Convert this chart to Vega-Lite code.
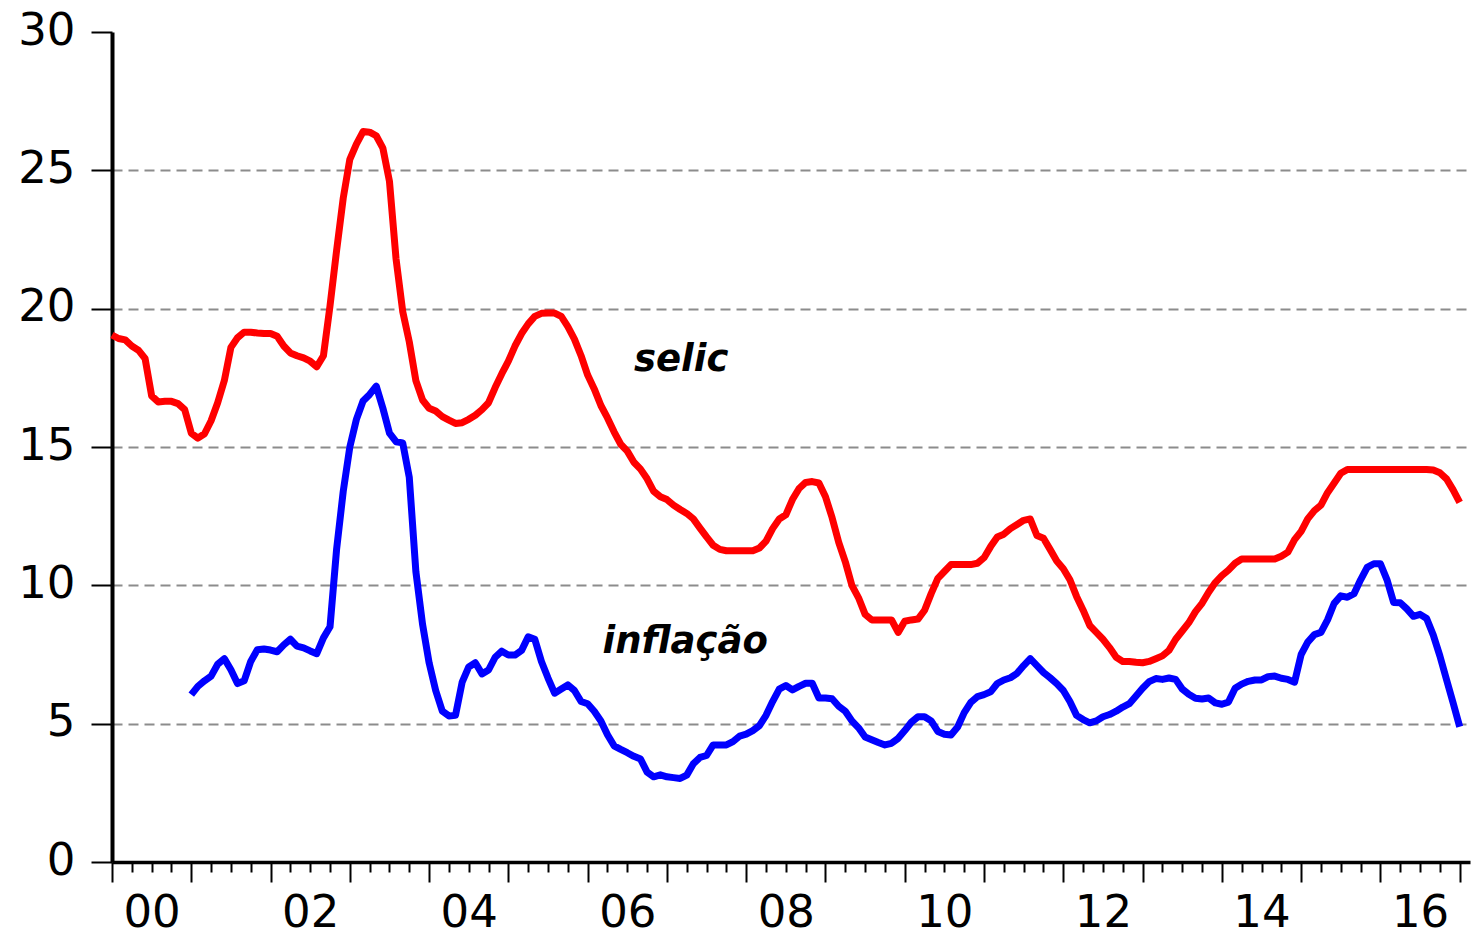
{
"$schema": "https://vega.github.io/schema/vega-lite/v6.json",
"width": 1358,
"height": 830,
"autosize": {"type": "none"},
"padding": {"left": 112, "top": 32, "right": 4, "bottom": 74},
"background": "white",
"config": {"view": {"stroke": null}},
"datasets": {
"selic": [
{"t":2000.000,"v":19.05},{"t":2000.083,"v":18.92},{"t":2000.167,"v":18.87},{"t":2000.250,"v":18.65},{"t":2000.333,"v":18.5},{"t":2000.417,"v":18.2},{"t":2000.500,"v":16.85},{"t":2000.583,"v":16.63},{"t":2000.667,"v":16.65},{"t":2000.750,"v":16.65},{"t":2000.833,"v":16.57},{"t":2000.917,"v":16.35},
{"t":2001.000,"v":15.5},{"t":2001.083,"v":15.32},{"t":2001.167,"v":15.48},{"t":2001.250,"v":15.95},{"t":2001.333,"v":16.6},{"t":2001.417,"v":17.4},{"t":2001.500,"v":18.6},{"t":2001.583,"v":18.95},{"t":2001.667,"v":19.15},{"t":2001.750,"v":19.15},{"t":2001.833,"v":19.12},{"t":2001.917,"v":19.1},
{"t":2002.000,"v":19.1},{"t":2002.083,"v":19.0},{"t":2002.167,"v":18.65},{"t":2002.250,"v":18.4},{"t":2002.333,"v":18.3},{"t":2002.417,"v":18.22},{"t":2002.500,"v":18.1},{"t":2002.583,"v":17.9},{"t":2002.667,"v":18.3},{"t":2002.750,"v":20.1},{"t":2002.833,"v":22.1},{"t":2002.917,"v":24.0},
{"t":2003.000,"v":25.4},{"t":2003.083,"v":25.95},{"t":2003.167,"v":26.4},{"t":2003.250,"v":26.38},{"t":2003.333,"v":26.25},{"t":2003.417,"v":25.8},{"t":2003.500,"v":24.6},{"t":2003.583,"v":21.8},{"t":2003.667,"v":19.9},{"t":2003.750,"v":18.8},{"t":2003.833,"v":17.4},{"t":2003.917,"v":16.7},
{"t":2004.000,"v":16.4},{"t":2004.083,"v":16.3},{"t":2004.167,"v":16.1},{"t":2004.250,"v":15.97},{"t":2004.333,"v":15.85},{"t":2004.417,"v":15.88},{"t":2004.500,"v":16.0},{"t":2004.583,"v":16.15},{"t":2004.667,"v":16.35},{"t":2004.750,"v":16.6},{"t":2004.833,"v":17.15},{"t":2004.917,"v":17.65},
{"t":2005.000,"v":18.1},{"t":2005.083,"v":18.65},{"t":2005.167,"v":19.1},{"t":2005.250,"v":19.45},{"t":2005.333,"v":19.72},{"t":2005.417,"v":19.83},{"t":2005.500,"v":19.84},{"t":2005.583,"v":19.84},{"t":2005.667,"v":19.72},{"t":2005.750,"v":19.35},{"t":2005.833,"v":18.9},{"t":2005.917,"v":18.3},
{"t":2006.000,"v":17.6},{"t":2006.083,"v":17.1},{"t":2006.167,"v":16.5},{"t":2006.250,"v":16.05},{"t":2006.333,"v":15.55},{"t":2006.417,"v":15.1},{"t":2006.500,"v":14.85},{"t":2006.583,"v":14.45},{"t":2006.667,"v":14.2},{"t":2006.750,"v":13.85},{"t":2006.833,"v":13.4},{"t":2006.917,"v":13.2},
{"t":2007.000,"v":13.1},{"t":2007.083,"v":12.9},{"t":2007.167,"v":12.74},{"t":2007.250,"v":12.6},{"t":2007.333,"v":12.4},{"t":2007.417,"v":12.07},{"t":2007.500,"v":11.75},{"t":2007.583,"v":11.45},{"t":2007.667,"v":11.3},{"t":2007.750,"v":11.25},{"t":2007.833,"v":11.25},{"t":2007.917,"v":11.25},
{"t":2008.000,"v":11.25},{"t":2008.083,"v":11.25},{"t":2008.167,"v":11.35},{"t":2008.250,"v":11.6},{"t":2008.333,"v":12.05},{"t":2008.417,"v":12.4},{"t":2008.500,"v":12.55},{"t":2008.583,"v":13.1},{"t":2008.667,"v":13.5},{"t":2008.750,"v":13.72},{"t":2008.833,"v":13.75},{"t":2008.917,"v":13.7},
{"t":2009.000,"v":13.2},{"t":2009.083,"v":12.45},{"t":2009.167,"v":11.55},{"t":2009.250,"v":10.85},{"t":2009.333,"v":10.0},{"t":2009.417,"v":9.55},{"t":2009.500,"v":8.95},{"t":2009.583,"v":8.75},{"t":2009.667,"v":8.75},{"t":2009.750,"v":8.75},{"t":2009.833,"v":8.75},{"t":2009.917,"v":8.3},
{"t":2010.000,"v":8.7},{"t":2010.083,"v":8.75},{"t":2010.167,"v":8.78},{"t":2010.250,"v":9.1},{"t":2010.333,"v":9.7},{"t":2010.417,"v":10.25},{"t":2010.500,"v":10.5},{"t":2010.583,"v":10.75},{"t":2010.667,"v":10.75},{"t":2010.750,"v":10.75},{"t":2010.833,"v":10.75},{"t":2010.917,"v":10.8},
{"t":2011.000,"v":11.0},{"t":2011.083,"v":11.4},{"t":2011.167,"v":11.75},{"t":2011.250,"v":11.85},{"t":2011.333,"v":12.05},{"t":2011.417,"v":12.2},{"t":2011.500,"v":12.35},{"t":2011.583,"v":12.4},{"t":2011.667,"v":11.8},{"t":2011.750,"v":11.7},{"t":2011.833,"v":11.3},{"t":2011.917,"v":10.88},
{"t":2012.000,"v":10.6},{"t":2012.083,"v":10.2},{"t":2012.167,"v":9.6},{"t":2012.250,"v":9.1},{"t":2012.333,"v":8.55},{"t":2012.417,"v":8.3},{"t":2012.500,"v":8.05},{"t":2012.583,"v":7.75},{"t":2012.667,"v":7.4},{"t":2012.750,"v":7.25},{"t":2012.833,"v":7.25},{"t":2012.917,"v":7.22},
{"t":2013.000,"v":7.2},{"t":2013.083,"v":7.25},{"t":2013.167,"v":7.35},{"t":2013.250,"v":7.45},{"t":2013.333,"v":7.65},{"t":2013.417,"v":8.05},{"t":2013.500,"v":8.35},{"t":2013.583,"v":8.65},{"t":2013.667,"v":9.05},{"t":2013.750,"v":9.35},{"t":2013.833,"v":9.75},{"t":2013.917,"v":10.1},
{"t":2014.000,"v":10.35},{"t":2014.083,"v":10.55},{"t":2014.167,"v":10.8},{"t":2014.250,"v":10.95},{"t":2014.333,"v":10.95},{"t":2014.417,"v":10.95},{"t":2014.500,"v":10.95},{"t":2014.583,"v":10.95},{"t":2014.667,"v":10.95},{"t":2014.750,"v":11.05},{"t":2014.833,"v":11.2},{"t":2014.917,"v":11.65},
{"t":2015.000,"v":11.95},{"t":2015.083,"v":12.4},{"t":2015.167,"v":12.7},{"t":2015.250,"v":12.9},{"t":2015.333,"v":13.35},{"t":2015.417,"v":13.7},{"t":2015.500,"v":14.05},{"t":2015.583,"v":14.19},{"t":2015.667,"v":14.19},{"t":2015.750,"v":14.19},{"t":2015.833,"v":14.19},{"t":2015.917,"v":14.19},
{"t":2016.000,"v":14.19},{"t":2016.083,"v":14.19},{"t":2016.167,"v":14.19},{"t":2016.250,"v":14.19},{"t":2016.333,"v":14.19},{"t":2016.417,"v":14.19},{"t":2016.500,"v":14.19},{"t":2016.583,"v":14.19},{"t":2016.667,"v":14.17},{"t":2016.750,"v":14.07},{"t":2016.833,"v":13.85},{"t":2016.917,"v":13.45},
{"t":2017.000,"v":13.0}
],
"inflacao": [
{"t":2001.000,"v":6.05},{"t":2001.083,"v":6.35},{"t":2001.167,"v":6.55},{"t":2001.250,"v":6.72},{"t":2001.333,"v":7.15},{"t":2001.417,"v":7.35},{"t":2001.500,"v":6.95},{"t":2001.583,"v":6.45},{"t":2001.667,"v":6.55},{"t":2001.750,"v":7.25},{"t":2001.833,"v":7.67},{"t":2001.917,"v":7.7},
{"t":2002.000,"v":7.66},{"t":2002.083,"v":7.6},{"t":2002.167,"v":7.85},{"t":2002.250,"v":8.05},{"t":2002.333,"v":7.8},{"t":2002.417,"v":7.74},{"t":2002.500,"v":7.63},{"t":2002.583,"v":7.53},{"t":2002.667,"v":8.1},{"t":2002.750,"v":8.5},{"t":2002.833,"v":11.3},{"t":2002.917,"v":13.4},
{"t":2003.000,"v":15.0},{"t":2003.083,"v":16.0},{"t":2003.167,"v":16.66},{"t":2003.250,"v":16.9},{"t":2003.333,"v":17.2},{"t":2003.417,"v":16.4},{"t":2003.500,"v":15.5},{"t":2003.583,"v":15.19},{"t":2003.667,"v":15.15},{"t":2003.750,"v":13.9},{"t":2003.833,"v":10.5},{"t":2003.917,"v":8.6},
{"t":2004.000,"v":7.2},{"t":2004.083,"v":6.2},{"t":2004.167,"v":5.45},{"t":2004.250,"v":5.28},{"t":2004.333,"v":5.3},{"t":2004.417,"v":6.5},{"t":2004.500,"v":7.05},{"t":2004.583,"v":7.2},{"t":2004.667,"v":6.8},{"t":2004.750,"v":6.94},{"t":2004.833,"v":7.4},{"t":2004.917,"v":7.62},
{"t":2005.000,"v":7.48},{"t":2005.083,"v":7.48},{"t":2005.167,"v":7.65},{"t":2005.250,"v":8.14},{"t":2005.333,"v":8.05},{"t":2005.417,"v":7.25},{"t":2005.500,"v":6.65},{"t":2005.583,"v":6.1},{"t":2005.667,"v":6.25},{"t":2005.750,"v":6.4},{"t":2005.833,"v":6.2},{"t":2005.917,"v":5.8},
{"t":2006.000,"v":5.72},{"t":2006.083,"v":5.45},{"t":2006.167,"v":5.1},{"t":2006.250,"v":4.6},{"t":2006.333,"v":4.2},{"t":2006.417,"v":4.07},{"t":2006.500,"v":3.95},{"t":2006.583,"v":3.82},{"t":2006.667,"v":3.72},{"t":2006.750,"v":3.25},{"t":2006.833,"v":3.08},{"t":2006.917,"v":3.15},
{"t":2007.000,"v":3.08},{"t":2007.083,"v":3.05},{"t":2007.167,"v":3.02},{"t":2007.250,"v":3.14},{"t":2007.333,"v":3.55},{"t":2007.417,"v":3.78},{"t":2007.500,"v":3.85},{"t":2007.583,"v":4.23},{"t":2007.667,"v":4.23},{"t":2007.750,"v":4.23},{"t":2007.833,"v":4.35},{"t":2007.917,"v":4.55},
{"t":2008.000,"v":4.62},{"t":2008.083,"v":4.75},{"t":2008.167,"v":4.93},{"t":2008.250,"v":5.3},{"t":2008.333,"v":5.8},{"t":2008.417,"v":6.25},{"t":2008.500,"v":6.38},{"t":2008.583,"v":6.22},{"t":2008.667,"v":6.35},{"t":2008.750,"v":6.46},{"t":2008.833,"v":6.46},{"t":2008.917,"v":5.93},
{"t":2009.000,"v":5.93},{"t":2009.083,"v":5.9},{"t":2009.167,"v":5.63},{"t":2009.250,"v":5.45},{"t":2009.333,"v":5.1},{"t":2009.417,"v":4.85},{"t":2009.500,"v":4.52},{"t":2009.583,"v":4.42},{"t":2009.667,"v":4.32},{"t":2009.750,"v":4.23},{"t":2009.833,"v":4.29},{"t":2009.917,"v":4.47},
{"t":2010.000,"v":4.75},{"t":2010.083,"v":5.05},{"t":2010.167,"v":5.25},{"t":2010.250,"v":5.25},{"t":2010.333,"v":5.1},{"t":2010.417,"v":4.72},{"t":2010.500,"v":4.62},{"t":2010.583,"v":4.59},{"t":2010.667,"v":4.88},{"t":2010.750,"v":5.4},{"t":2010.833,"v":5.77},{"t":2010.917,"v":5.98},
{"t":2011.000,"v":6.05},{"t":2011.083,"v":6.15},{"t":2011.167,"v":6.45},{"t":2011.250,"v":6.58},{"t":2011.333,"v":6.66},{"t":2011.417,"v":6.82},{"t":2011.500,"v":7.1},{"t":2011.583,"v":7.35},{"t":2011.667,"v":7.1},{"t":2011.750,"v":6.85},{"t":2011.833,"v":6.66},{"t":2011.917,"v":6.45},
{"t":2012.000,"v":6.2},{"t":2012.083,"v":5.8},{"t":2012.167,"v":5.3},{"t":2012.250,"v":5.15},{"t":2012.333,"v":5.03},{"t":2012.417,"v":5.1},{"t":2012.500,"v":5.25},{"t":2012.583,"v":5.33},{"t":2012.667,"v":5.45},{"t":2012.750,"v":5.6},{"t":2012.833,"v":5.72},{"t":2012.917,"v":6.0},
{"t":2013.000,"v":6.28},{"t":2013.083,"v":6.52},{"t":2013.167,"v":6.63},{"t":2013.250,"v":6.6},{"t":2013.333,"v":6.65},{"t":2013.417,"v":6.6},{"t":2013.500,"v":6.25},{"t":2013.583,"v":6.06},{"t":2013.667,"v":5.92},{"t":2013.750,"v":5.89},{"t":2013.833,"v":5.93},{"t":2013.917,"v":5.75},
{"t":2014.000,"v":5.7},{"t":2014.083,"v":5.78},{"t":2014.167,"v":6.28},{"t":2014.250,"v":6.43},{"t":2014.333,"v":6.53},{"t":2014.417,"v":6.58},{"t":2014.500,"v":6.58},{"t":2014.583,"v":6.7},{"t":2014.667,"v":6.72},{"t":2014.750,"v":6.64},{"t":2014.833,"v":6.6},{"t":2014.917,"v":6.5},
{"t":2015.000,"v":7.5},{"t":2015.083,"v":7.95},{"t":2015.167,"v":8.22},{"t":2015.250,"v":8.3},{"t":2015.333,"v":8.75},{"t":2015.417,"v":9.35},{"t":2015.500,"v":9.62},{"t":2015.583,"v":9.57},{"t":2015.667,"v":9.7},{"t":2015.750,"v":10.2},{"t":2015.833,"v":10.65},{"t":2015.917,"v":10.78},
{"t":2016.000,"v":10.78},{"t":2016.083,"v":10.2},{"t":2016.167,"v":9.38},{"t":2016.250,"v":9.37},{"t":2016.333,"v":9.15},{"t":2016.417,"v":8.88},{"t":2016.500,"v":8.95},{"t":2016.583,"v":8.8},{"t":2016.667,"v":8.2},{"t":2016.750,"v":7.45},{"t":2016.833,"v":6.6},{"t":2016.917,"v":5.75},
{"t":2017.000,"v":4.89}
],
"labels": [
{"t":2007.18,"v":17.75,"label":"selic"},
{"t":2007.23,"v":7.55,"label":"inflação"}
]
},
"encoding": {
"x": {"field": "t", "type": "quantitative",
 "scale": {"domain": [2000, 2017.13], "nice": false, "zero": false},
 "axis": {
  "title": null, "grid": false,
  "values": [2000,2000.25,2000.5,2000.75,2001,2001.25,2001.5,2001.75,2002,2002.25,2002.5,2002.75,2003,2003.25,2003.5,2003.75,2004,2004.25,2004.5,2004.75,2005,2005.25,2005.5,2005.75,2006,2006.25,2006.5,2006.75,2007,2007.25,2007.5,2007.75,2008,2008.25,2008.5,2008.75,2009,2009.25,2009.5,2009.75,2010,2010.25,2010.5,2010.75,2011,2011.25,2011.5,2011.75,2012,2012.25,2012.5,2012.75,2013,2013.25,2013.5,2013.75,2014,2014.25,2014.5,2014.75,2015,2015.25,2015.5,2015.75,2016,2016.25,2016.5,2016.75,2017],
  "domainColor": "black", "domainWidth": 3.5,
  "tickColor": "black", "tickWidth": 2,
  "tickSize": {"condition": {"test": "datum.value % 1 === 0", "value": 20}, "value": 10},
  "labelExpr": "datum.value % 2 === 0 ? substring(toString(datum.value), 2, 4) : ''",
  "labelOffset": 39.6,
  "labelPadding": 8,
  "labelFont": "DejaVu Sans", "labelFontSize": 45, "labelColor": "black",
  "labelOverlap": false, "labelFlush": false, "labelBound": false
 }
},
"y": {"field": "v", "type": "quantitative",
 "scale": {"domain": [0, 30], "nice": false, "zero": true},
 "axis": {
  "title": null,
  "values": [0,5,10,15,20,25,30],
  "domainColor": "black", "domainWidth": 4,
  "tickColor": "black", "tickWidth": 2, "tickSize": 21,
  "labelFont": "DejaVu Sans", "labelFontSize": 45, "labelColor": "black",
  "labelPadding": 16, "labelOffset": -2,
  "labelOverlap": false, "labelFlush": false, "labelBound": false,
  "grid": true, "gridColor": "#8c8c8c", "gridWidth": 2, "gridDash": [10, 6],
  "gridOpacity": {"condition": {"test": "datum.value === 0 || datum.value === 30", "value": 0}, "value": 1}
 }
}
},
"layer": [
{"data": {"name": "selic"},
 "mark": {"type": "line", "color": "#FF0000", "strokeWidth": 7, "strokeJoin": "round", "strokeCap": "butt"}},
{"data": {"name": "inflacao"},
 "mark": {"type": "line", "color": "#0000FF", "strokeWidth": 7, "strokeJoin": "round", "strokeCap": "butt"}},
{"data": {"name": "labels"},
 "mark": {"type": "text", "font": "DejaVu Sans", "fontSize": 37, "fontWeight": "bold", "fontStyle": "italic", "align": "center", "baseline": "alphabetic", "color": "black"},
 "encoding": {"text": {"field": "label"}}}
]
}
